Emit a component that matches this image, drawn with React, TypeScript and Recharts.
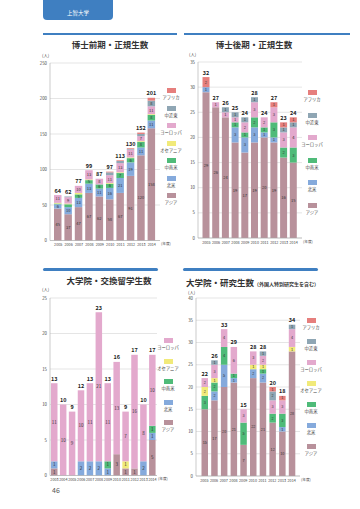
import React from 'react';
import { BarChart, Bar, XAxis, YAxis, CartesianGrid, LabelList } from 'recharts';

const FONT = '"Noto Sans CJK JP", "Noto Sans", sans-serif';

const COLORS: Record<string, string> = {
  asia: '#b8919b',
  na: '#85aadc',
  la: '#4fbb79',
  oc: '#f1ea7a',
  eu: '#e3a9cd',
  me: '#8fa6b4',
  af: '#e67f7d',
};
const NAMES: Record<string, string> = {
  asia: 'アジア',
  na: '北米',
  la: '中南米',
  oc: 'オセアニア',
  eu: 'ヨーロッパ',
  me: '中近東',
  af: 'アフリカ',
};

// 博士前期・正規生数
const zenkiYears = ['2005', '2006', '2007', '2008', '2009', '2010', '2011', '2012', '2013', '2014'];
const zenkiAsia = [45, 37, 47, 67, 62, 58, 67, 91, 120, 158];
const zenkiNA = [6, 10, 13, 13, 11, 16, 21, 19, 11, 11];
const zenkiLA = [1, 4, 5, 5, 6, 6, 7, 6, 8, 8];
const zenkiOC = [1, 1, 2, 1, 0, 1, 1, 1, 1, 1];
const zenkiEU = [11, 9, 10, 13, 8, 11, 13, 11, 7, 11];
const zenkiME = [0, 1, 0, 0, 0, 4, 3, 1, 3, 8];
const zenkiAF = [0, 0, 0, 0, 0, 1, 1, 1, 2, 4];

// 博士後期・正規生数
const kokiYears = ['2005', '2006', '2007', '2008', '2009', '2010', '2011', '2012', '2013', '2014'];
const kokiAsia = [29, 26, 24, 19, 17, 19, 20, 19, 16, 15];
const kokiNA = [1, 0, 0, 3, 3, 3, 1, 1, 0, 0];
const kokiLA = [0, 0, 0, 1, 1, 2, 1, 3, 2, 3];
const kokiEU = [0, 1, 1, 1, 2, 3, 2, 3, 3, 4];
const kokiME = [0, 0, 1, 1, 1, 1, 0, 0, 1, 1];
const kokiAF = [2, 0, 0, 0, 0, 0, 0, 1, 1, 1];

// 大学院・交換留学生数
const exYears = ['2003', '2004', '2005', '2006', '2007', '2008', '2009', '2010', '2011', '2012', '2013', '2014'];
const exAsia = [1, 0, 0, 0, 0, 0, 0, 3, 1, 1, 0, 5];
const exNA = [1, 0, 0, 2, 2, 2, 1, 0, 0, 0, 2, 1];
const exLA = [0, 0, 0, 0, 0, 0, 1, 0, 0, 0, 0, 1];
const exOC = [0, 0, 0, 0, 0, 0, 0, 0, 1, 0, 0, 0];
const exEU = [11, 10, 9, 10, 11, 21, 11, 13, 7, 16, 8, 10];

// 大学院・研究生数
const kenYears = ['2005', '2006', '2007', '2008', '2009', '2010', '2011', '2012', '2013', '2014'];
const kenAsia = [15, 17, 20, 21, 7, 22, 21, 12, 10, 28];
const kenNA = [0, 2, 5, 1, 0, 2, 2, 0, 1, 0];
const kenLA = [3, 2, 4, 1, 5, 0, 1, 2, 3, 0];
const kenOC = [2, 1, 0, 0, 0, 1, 1, 0, 0, 1];
const kenEU = [2, 3, 4, 6, 3, 3, 2, 3, 3, 4];
const kenME = [0, 1, 0, 0, 0, 0, 1, 2, 0, 1];
const kenAF = [0, 0, 0, 0, 0, 0, 0, 1, 1, 0];

const buildRows = (years: string[], series: Record<string, number[]>) =>
  years.map((year, i) => {
    const row: any = { year };
    let total = 0;
    Object.keys(series).forEach((k) => {
      row[k] = series[k][i];
      total += series[k][i];
    });
    row.total = total;
    return row;
  });

// label text carries "segment|total-if-topmost"
const labelKey = (keys: string[], k: string) => (row: any) => {
  const topKey = [...keys].reverse().find((kk) => row[kk] > 0);
  return `${row[k]}|${k === topKey ? row.total : ''}`;
};

const makeLabel = (minH: number, fs: number) => (props: any) => {
  const { x, y, width, height, value } = props;
  const [seg, tot] = String(value).split('|');
  const v = Number(seg);
  return (
    <g>
      {v > 0 && Math.abs(height) >= minH && (
        <text x={x + width / 2} y={y + height / 2} dy="0.36em" textAnchor="middle" fontSize={fs} fill="#333" fontFamily={FONT}>
          {seg}
        </text>
      )}
      {tot && (
        <text x={x + width / 2} y={y - 2.5} textAnchor="middle" fontSize={5.5} fontWeight={700} fill="#222" fontFamily={FONT}>
          {tot}
        </text>
      )}
    </g>
  );
};

type PanelProps = {
  left: number;
  top: number;
  width: number;
  height: number;
  margin: { top: number; right: number; left: number; bottom: number };
  yWidth: number;
  pad: number;
  barSize: number;
  max: number;
  ticks: number[];
  data: any[];
  keys: string[];
  minH: number;
  fs: number;
};

const Panel = (p: PanelProps) => (
  <div style={{ position: 'absolute', left: p.left, top: p.top }}>
    <BarChart width={p.width} height={p.height} data={p.data} margin={p.margin} barSize={p.barSize}>
      <CartesianGrid vertical={false} stroke="#d4d4d4" strokeWidth={0.6} />
      <XAxis
        dataKey="year"
        height={10}
        tickLine={false}
        tickSize={0}
        tickMargin={3}
        axisLine={{ stroke: '#aaa', strokeWidth: 0.6 }}
        padding={{ left: p.pad, right: p.pad }}
        interval={0}
        tick={{ fontSize: 3.7, fill: '#444', fontFamily: FONT }}
      />
      <YAxis
        width={p.yWidth}
        domain={[0, p.max]}
        ticks={p.ticks}
        interval={0}
        tickLine={false}
        tickSize={0}
        tickMargin={3}
        axisLine={{ stroke: '#aaa', strokeWidth: 0.6 }}
        tick={{ fontSize: 4.3, fill: '#444', fontFamily: FONT }}
      />
      {p.keys.map((k) => (
        <Bar key={k} dataKey={k} stackId="s" fill={COLORS[k]} isAnimationActive={false}>
          <LabelList dataKey={labelKey(p.keys, k)} content={makeLabel(p.minH, p.fs)} />
        </Bar>
      ))}
    </BarChart>
  </div>
);

const Legend = ({ cx, top, step, keys }: { cx: number; top: number; step: number; keys: string[] }) => (
  <>
    {keys.map((k, i) => (
      <React.Fragment key={k}>
        <div
          style={{
            position: 'absolute',
            left: cx - 4.5,
            top: top + i * step,
            width: 9,
            height: 5,
            background: COLORS[k],
          }}
        />
        <div
          style={{
            position: 'absolute',
            left: cx,
            transform: 'translateX(-50%)',
            top: top + i * step + 7,
            fontSize: 4.3,
            lineHeight: '5px',
            color: '#444',
            whiteSpace: 'nowrap',
          }}
        >
          {NAMES[k]}
        </div>
      </React.Fragment>
    ))}
  </>
);

const Txt = ({ x, y, size, children, bold, color, center }: any) => (
  <div
    style={{
      position: 'absolute',
      left: x,
      transform: center ? 'translateX(-50%)' : undefined,
      top: y,
      fontSize: size,
      lineHeight: `${size + 1}px`,
      fontWeight: bold ? 700 : 400,
      color: color || '#444',
      whiteSpace: 'nowrap',
    }}
  >
    {children}
  </div>
);

const zenkiData = buildRows(zenkiYears, { asia: zenkiAsia, na: zenkiNA, la: zenkiLA, oc: zenkiOC, eu: zenkiEU, me: zenkiME, af: zenkiAF });
const kokiData = buildRows(kokiYears, { asia: kokiAsia, na: kokiNA, la: kokiLA, eu: kokiEU, me: kokiME, af: kokiAF });
const exData = buildRows(exYears, { asia: exAsia, na: exNA, la: exLA, oc: exOC, eu: exEU });
const kenData = buildRows(kenYears, { asia: kenAsia, na: kenNA, la: kenLA, oc: kenOC, eu: kenEU, me: kenME, af: kenAF });

const BLUE = '#3f7fc1';

export default function App() {
  return (
    <div style={{ position: 'relative', width: 360, height: 509, background: '#fff', fontFamily: FONT, overflow: 'hidden' }}>
      <style>{'body{margin:0}'}</style>

      {/* header tab */}
      <div
        style={{
          position: 'absolute',
          left: 43,
          top: 0,
          width: 70,
          height: 20,
          background: BLUE,
          borderRadius: '0 0 4px 4px',
          color: '#fff',
          fontSize: 5.5,
          textAlign: 'center',
          lineHeight: '26px',
        }}
      >
        上智大学
      </div>

      <div style={{ position: 'absolute', left: 43, top: 33, width: 134, height: 2, background: BLUE }} />
      <div style={{ position: 'absolute', left: 184, top: 33, width: 166, height: 2, background: BLUE }} />
      <div style={{ position: 'absolute', left: 43, top: 268, width: 115, height: 3, background: BLUE, borderRadius: 2 }} />
      <div style={{ position: 'absolute', left: 183, top: 268, width: 135, height: 3, background: BLUE, borderRadius: 2 }} />

      {/* 博士前期 */}
      <Txt x={110} y={40} size={8.5} bold center color="#333">博士前期・正規生数</Txt>
      <Txt x={42} y={53} size={4.3}>(人)</Txt>
      <Panel
        left={0}
        top={0}
        width={175}
        height={255}
        margin={{ top: 63, right: 15, left: 34, bottom: 4.5 }}
        yWidth={16}
        pad={3}
        barSize={7.5}
        max={250}
        ticks={[0, 50, 100, 150, 200, 250]}
        data={zenkiData}
        keys={['asia', 'na', 'la', 'oc', 'eu', 'me', 'af']}
        minH={3}
        fs={4}
      />
      <Legend cx={171} top={88} step={17.5} keys={['af', 'me', 'eu', 'oc', 'la', 'na', 'asia']} />
      <Txt x={161} y={242} size={3.7}>(年度)</Txt>

      {/* 博士後期 */}
      <Txt x={254} y={40} size={8.5} bold center color="#333">博士後期・正規生数</Txt>
      <Txt x={189} y={52} size={4.3}>(人)</Txt>
      <Panel
        left={180}
        top={0}
        width={175}
        height={255}
        margin={{ top: 62, right: 53, left: 4, bottom: 7 }}
        yWidth={14}
        pad={3.5}
        barSize={7}
        max={35}
        ticks={[0, 5, 10, 15, 20, 25, 30, 35]}
        data={kokiData}
        keys={['asia', 'na', 'la', 'eu', 'me', 'af']}
        minH={2.8}
        fs={4.1}
      />
      <Legend cx={312} top={90} step={22.5} keys={['af', 'me', 'eu', 'la', 'na', 'asia']} />
      <Txt x={303} y={240} size={3.7}>(年度)</Txt>

      {/* 交換留学生 */}
      <Txt x={109} y={276} size={8.5} bold center color="#333">大学院・交換留学生数</Txt>
      <Txt x={42} y={287} size={4.3}>(人)</Txt>
      <Panel
        left={0}
        top={260}
        width={175}
        height={249}
        margin={{ top: 38, right: 18, left: 34, bottom: 23.5 }}
        yWidth={16}
        pad={0}
        barSize={6.5}
        max={25}
        ticks={[0, 5, 10, 15, 20, 25]}
        data={exData}
        keys={['asia', 'na', 'la', 'oc', 'eu']}
        minH={2.8}
        fs={4.5}
      />
      <Legend cx={168} top={338} step={20.5} keys={['eu', 'oc', 'la', 'na', 'asia']} />
      <Txt x={158} y={477} size={3.7}>(年度)</Txt>

      {/* 研究生 */}
      <div style={{ position: 'absolute', left: 186, top: 275, whiteSpace: 'nowrap', color: '#333', lineHeight: '9px', height: 9 }}>
        <span style={{ fontSize: 8.5, fontWeight: 700 }}>大学院・研究生数</span>
        <span style={{ fontSize: 5, fontWeight: 700 }}>（外国人特別研究生を含む）</span>
      </div>
      <Txt x={188} y={289.5} size={4.3}>(人)</Txt>
      <Panel
        left={180}
        top={260}
        width={175}
        height={249}
        margin={{ top: 38, right: 55, left: 4, bottom: 23 }}
        yWidth={12}
        pad={3.5}
        barSize={6.5}
        max={40}
        ticks={[0, 5, 10, 15, 20, 25, 30, 35, 40]}
        data={kenData}
        keys={['asia', 'na', 'la', 'oc', 'eu', 'me', 'af']}
        minH={2.8}
        fs={3.8}
      />
      <Legend cx={311} top={318} step={21} keys={['af', 'me', 'eu', 'oc', 'la', 'na', 'asia']} />
      <Txt x={301} y={477.5} size={3.7}>(年度)</Txt>

      <Txt x={52} y={486} size={7} color="#555">46</Txt>
    </div>
  );
}
